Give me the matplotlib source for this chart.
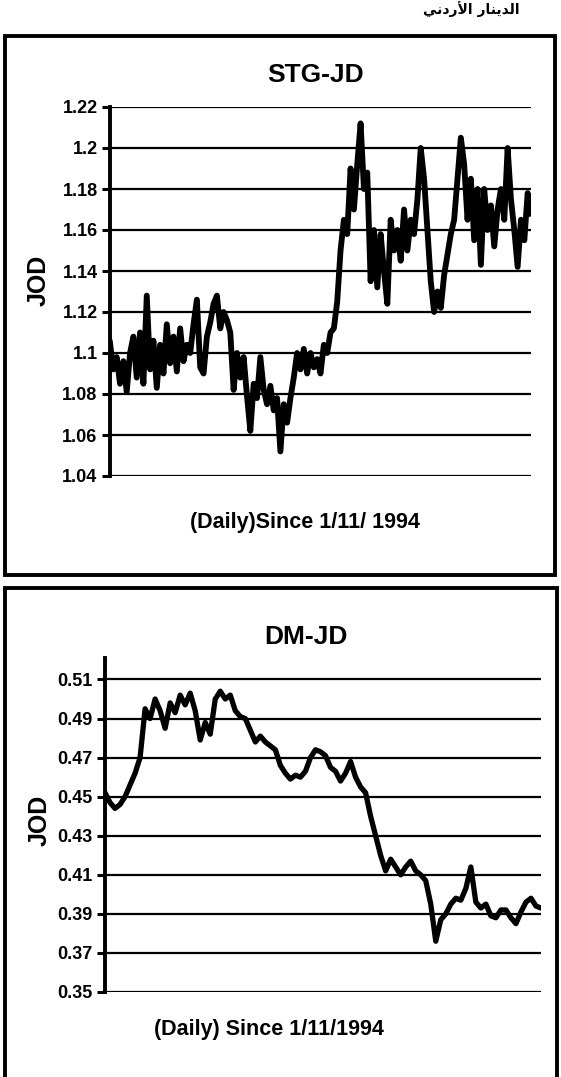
import matplotlib.pyplot as plt
import numpy as np
from matplotlib.patches import Rectangle

W, H = 561, 1077

# STG-JD daily rate since 1/11/1994
stg_jd = [1.105, 1.092, 1.098, 1.085, 1.096, 1.081, 1.100, 1.108, 1.088, 1.110,
          1.085, 1.128, 1.092, 1.106, 1.083, 1.104, 1.090, 1.114, 1.095, 1.108,
          1.091, 1.112, 1.096, 1.104, 1.100, 1.114, 1.126, 1.093, 1.090, 1.108,
          1.115, 1.124, 1.128, 1.112, 1.120, 1.116, 1.110, 1.082, 1.100, 1.088,
          1.098, 1.079, 1.062, 1.085, 1.078, 1.098, 1.082, 1.075, 1.084, 1.072,
          1.078, 1.052, 1.075, 1.066, 1.078, 1.088, 1.100, 1.092, 1.102, 1.090,
          1.100, 1.093, 1.097, 1.090, 1.104, 1.100, 1.110, 1.112, 1.125, 1.150,
          1.165, 1.158, 1.190, 1.170, 1.192, 1.212, 1.180, 1.188, 1.135, 1.160,
          1.132, 1.158, 1.140, 1.124, 1.165, 1.150, 1.160, 1.145, 1.170, 1.150,
          1.165, 1.158, 1.175, 1.200, 1.185, 1.160, 1.135, 1.120, 1.130, 1.122,
          1.138, 1.148, 1.158, 1.165, 1.185, 1.205, 1.192, 1.165, 1.185, 1.155,
          1.180, 1.143, 1.180, 1.160, 1.172, 1.152, 1.170, 1.180, 1.165, 1.200,
          1.175, 1.160, 1.142, 1.165, 1.155, 1.178, 1.168]

# DM-JD daily rate since 1/11/1994
dm_jd = [0.452, 0.447, 0.444, 0.446, 0.450, 0.456, 0.462, 0.470, 0.495, 0.490,
         0.500, 0.494, 0.485, 0.498, 0.493, 0.502, 0.497, 0.503, 0.494, 0.479,
         0.488, 0.482, 0.500, 0.504, 0.500, 0.502, 0.494, 0.491, 0.490, 0.484,
         0.478, 0.481, 0.478, 0.476, 0.474, 0.466, 0.462, 0.459, 0.461, 0.460,
         0.463, 0.470, 0.474, 0.473, 0.471, 0.465, 0.463, 0.458, 0.462, 0.468,
         0.460, 0.455, 0.452, 0.440, 0.430, 0.420, 0.412, 0.418, 0.414, 0.410,
         0.414, 0.417, 0.412, 0.410, 0.407, 0.395, 0.376, 0.387, 0.390, 0.395,
         0.398, 0.397, 0.403, 0.414, 0.396, 0.393, 0.395, 0.389, 0.388, 0.392,
         0.392, 0.388, 0.385, 0.391, 0.396, 0.398, 0.394, 0.393]

stg_ticks = [1.04, 1.06, 1.08, 1.1, 1.12, 1.14, 1.16, 1.18, 1.2, 1.22]
stg_labels = ['1.04', '1.06', '1.08', '1.1', '1.12', '1.14', '1.16', '1.18', '1.2', '1.22']
dm_ticks = [0.35, 0.37, 0.39, 0.41, 0.43, 0.45, 0.47, 0.49, 0.51]
dm_labels = ['0.35', '0.37', '0.39', '0.41', '0.43', '0.45', '0.47', '0.49', '0.51']

plt.rcParams['font.family'] = ['Liberation Sans', 'DejaVu Sans']


def fx(x):
    return x / W


def fy(y):
    return 1 - y / H


def box(x0, y0, x1, y1):
    return [fx(x0), fy(y1), fx(x1) - fx(x0), fy(y0) - fy(y1)]


def setup(ax, ticks, labels, ylim, n):
    ax.set_ylim(*ylim)
    ax.set_xlim(0, n - 1)
    ax.set_yticks(ticks)
    ax.set_yticklabels(labels, fontsize=13, fontweight='bold')
    ax.set_xticks([])
    for t in ticks:
        ax.axhline(t, color='black', lw=1.6, zorder=1)
    for s in ['top', 'right', 'bottom']:
        ax.spines[s].set_visible(False)
    ax.spines['left'].set_linewidth(2.8)
    ax.tick_params(axis='y', direction='out', length=6, width=2.2, pad=3)


fig = plt.figure(figsize=(W / 100, H / 100), dpi=100)

# panel frames
fig.add_artist(Rectangle((fx(5), fy(575)), fx(555) - fx(5), fy(36) - fy(575),
                         fill=False, lw=2.8, ec='black', transform=fig.transFigure))
fig.add_artist(Rectangle((fx(5), fy(1090)), fx(557) - fx(5), fy(588) - fy(1090),
                         fill=False, lw=2.8, ec='black', transform=fig.transFigure))

# arabic heading (presentation forms, visual order)
heading = '\ufef2\ufee7\ufea9\ufead\ufef7\ufe8d \ufead\ufe8e\ufee8\ufef3\ufeaa\ufedf\ufe8d'
fig.text(fx(520), fy(10), heading, ha='right', va='center', fontsize=10,
         fontweight='bold', family=['DejaVu Sans'])

# top chart
ax1 = fig.add_axes(box(110, 107, 531, 476))
ax1.plot(np.arange(len(stg_jd)), stg_jd, color='black', lw=4.2, zorder=3)
setup(ax1, stg_ticks, stg_labels, (1.04, 1.22), len(stg_jd))
fig.text(fx(316), fy(75), 'STG-JD', ha='center', va='center', fontsize=19,
         fontweight='bold')
fig.text(fx(39), fy(280), 'JOD', ha='center', va='center', rotation=90,
         fontsize=18, fontweight='bold')
fig.text(fx(305), fy(523), '(Daily)Since 1/11/ 1994', ha='center', va='center',
         fontsize=15.5, fontweight='bold')

# bottom chart
ax2 = fig.add_axes(box(105, 658, 541, 992))
ax2.plot(np.arange(len(dm_jd)), dm_jd, color='black', lw=3.8, zorder=3)
setup(ax2, dm_ticks, dm_labels, (0.35, 0.521), len(dm_jd))
fig.text(fx(306), fy(637), 'DM-JD', ha='center', va='center', fontsize=19,
         fontweight='bold')
fig.text(fx(40), fy(820), 'JOD', ha='center', va='center', rotation=90,
         fontsize=18, fontweight='bold')
fig.text(fx(269), fy(1030), '(Daily) Since 1/11/1994', ha='center', va='center',
         fontsize=15.5, fontweight='bold')

fig.savefig('out.png', dpi=100)
